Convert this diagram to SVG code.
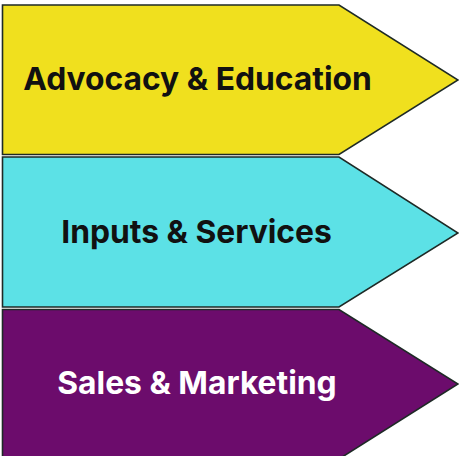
<svg xmlns="http://www.w3.org/2000/svg" width="459" height="456" viewBox="0 0 459 456">
<style>
.s{stroke:#1e2a26;stroke-width:1.6;stroke-linejoin:miter}
.t{font-family:Inter,"Noto Sans",sans-serif;font-weight:700;font-size:31.8px;text-anchor:middle}
</style>
<rect width="459" height="456" fill="#ffffff"/>
<g id="advocacy">
<polygon class="s" fill="#f0e01e" points="2.5,5 339,5 458,80 339,154.5 2.5,154.5"/>
<text class="t" x="197.5" y="90" fill="#111111">Advocacy &amp; Education</text>
</g>
<g id="inputs">
<polygon class="s" fill="#5ce1e6" points="2.5,157 339,157 458,233 339,307 2.5,307"/>
<text class="t" x="196.5" y="243" fill="#111111">Inputs &amp; Services</text>
</g>
<g id="sales">
<polygon class="s" fill="#6c0c6c" points="2.5,309.5 339,309.5 458,384 339,459 2.5,459"/>
<text class="t" x="197" y="394" fill="#ffffff">Sales &amp; Marketing</text>
</g>
<g id="connectors"></g>
</svg>
